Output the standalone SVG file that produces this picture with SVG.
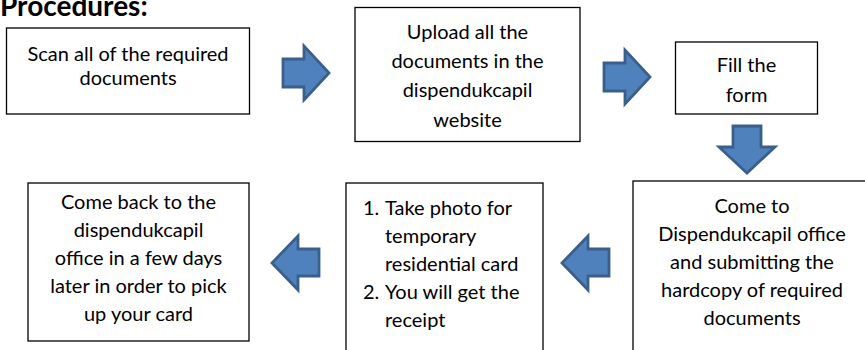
<svg xmlns="http://www.w3.org/2000/svg" width="865" height="350" viewBox="0 0 865 350">
<style>
.box{fill:#fff;stroke:#000;stroke-width:1.3}
.t{font-family:Lato,"Liberation Sans",sans-serif;font-size:20px;fill:#000;text-anchor:middle}
.l{font-family:Lato,"Liberation Sans",sans-serif;font-size:20px;fill:#000}
.arr{fill:#4f81bd;stroke:#3a5f8b;stroke-width:2.8;stroke-linejoin:miter}
.title{font-family:Lato,"Liberation Sans",sans-serif;font-size:28px;font-weight:bold;fill:#000}
</style>
<rect width="865" height="350" fill="#fff"/>
<text class="title" x="0" y="16">Procedures:</text>
<g id="n1">
<rect class="box" x="6.5" y="28" width="243" height="86"/>
<text class="t" x="128" y="61">Scan all of the required</text>
<text class="t" x="128" y="85">documents</text>
</g>
<g id="n2">
<rect class="box" x="355" y="7.5" width="225" height="134"/>
<text class="t" x="467.5" y="39">Upload all the</text>
<text class="t" x="467.5" y="68">documents in the</text>
<text class="t" x="467.5" y="97">dispendukcapil</text>
<text class="t" x="467.5" y="127">website</text>
</g>
<g id="n3">
<rect class="box" x="675.5" y="42" width="142" height="72"/>
<text class="t" x="746.5" y="72">Fill the</text>
<text class="t" x="746.5" y="102">form</text>
</g>
<g id="n4">
<rect class="box" x="633" y="181" width="240" height="190"/>
<text class="t" x="752" y="213">Come to</text>
<text class="t" x="752" y="241">Dispendukcapil office</text>
<text class="t" x="752" y="269">and submitting the</text>
<text class="t" x="752" y="297">hardcopy of required</text>
<text class="t" x="752" y="325">documents</text>
</g>
<g id="n5">
<rect class="box" x="346" y="183" width="197" height="190"/>
<text class="l" x="363" y="215">1.</text>
<text class="l" x="385" y="215">Take photo for</text>
<text class="l" x="385" y="243">temporary</text>
<text class="l" x="385" y="271">residential card</text>
<text class="l" x="363" y="299">2.</text>
<text class="l" x="385" y="299">You will get the</text>
<text class="l" x="385" y="327">receipt</text>
</g>
<g id="n6">
<rect class="box" x="28" y="183" width="221" height="158"/>
<text class="t" x="138.5" y="209">Come back to the</text>
<text class="t" x="138.5" y="237">dispendukcapil</text>
<text class="t" x="138.5" y="265">office in a few days</text>
<text class="t" x="138.5" y="293">later in order to pick</text>
<text class="t" x="138.5" y="321">up your card</text>
</g>
<g id="connectors">
<polygon class="arr" points="283,59 304,59 304,46 329,73 304,100 304,87 283,87"/>
<polygon class="arr" points="604,63 625,63 625,50 650,77 625,104 625,91 604,91"/>
<polygon class="arr" points="733,126 761,126 761,147 775,147 747,173 719,147 733,147"/>
<polygon class="arr" points="609,249 588,249 588,236 562,263 588,290 588,276 609,276"/>
<polygon class="arr" points="319,249 298,249 298,236 272,263 298,290 298,276 319,276"/>
</g>
</svg>
